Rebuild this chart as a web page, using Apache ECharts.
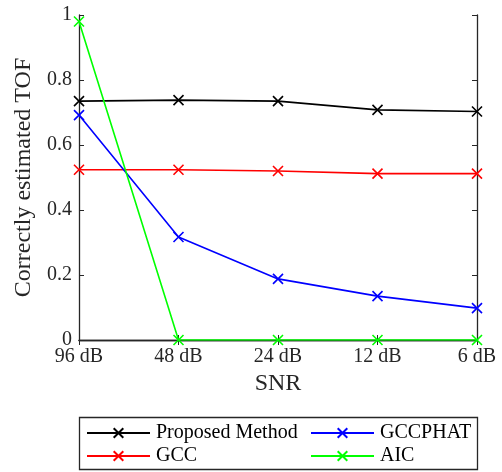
<!DOCTYPE html>
<html><head><meta charset="utf-8">
<script src="https://cdn.jsdelivr.net/npm/echarts@6/dist/echarts.min.js"></script>
<style>html,body{margin:0;padding:0;background:#fff}#c{width:502px;height:472px}</style>
</head><body><div id="c"></div>
<script>
var categories = ['96 dB', '48 dB', '24 dB', '12 dB', '6 dB'];
var proposed = [0.735, 0.738, 0.735, 0.708, 0.703];
var gcc = [0.524, 0.524, 0.520, 0.512, 0.512];
var gccphat = [0.692, 0.317, 0.188, 0.135, 0.098];
var aic = [0.98, 0, 0, 0, 0];
var yTicks = [0, 0.2, 0.4, 0.6, 0.8, 1];

var FONT = 'Liberation Serif';
var FS = 20;
var NFS = 24;
var crossPath = 'path://M0,0L10,10M10,0L0,10';
function mk(name, data, color) {
  return {
    name: name, type: 'line', data: data, color: color,
    symbol: crossPath, symbolSize: 10, showAllSymbol: true,
    lineStyle: {color: color, width: 1.6},
    itemStyle: {color: color, borderColor: color, borderWidth: 1.6},
    emphasis: {disabled: true}, animation: false, z: 3
  };
}
var chart = echarts.init(document.getElementById('c'));
var axisLine = {show: true, lineStyle: {color: '#262626', width: 1.3}};
var tick = {show: true, inside: true, length: 5, lineStyle: {color: '#262626'}};
chart.setOption({
  animation: false,
  textStyle: {fontFamily: FONT},
  grid: {left: 79, right: 25, top: 15, bottom: 132, show: false},
  xAxis: [{
    type: 'category', data: categories, boundaryGap: false, position: 'bottom',
    axisLine: axisLine, axisTick: tick,
    axisLabel: {fontFamily: FONT, fontSize: FS, color: '#262626', margin: 7},
    name: 'SNR', nameLocation: 'middle', nameGap: 30,
    nameTextStyle: {fontFamily: FONT, fontSize: NFS, color: '#262626'},
    splitLine: {show: false}
  }, {
    type: 'category', data: categories, boundaryGap: false, position: 'top',
    axisLine: axisLine, axisTick: tick,
    axisLabel: {show: false}, splitLine: {show: false}
  }],
  yAxis: [{
    type: 'value', min: 0, max: 1, interval: 0.2, position: 'left',
    axisLine: axisLine, axisTick: tick,
    axisLabel: {fontFamily: FONT, fontSize: FS, color: '#262626', margin: 7,
      formatter: function (v) { var r = Math.round(v*10)/10; return yTicks.indexOf(r) >= 0 ? String(r) : ''; }},
    name: 'Correctly estimated TOF', nameLocation: 'middle', nameGap: 41,
    nameTextStyle: {fontFamily: FONT, fontSize: NFS, color: '#262626'},
    splitLine: {show: false}
  }, {
    type: 'value', min: 0, max: 1, interval: 0.2, position: 'right',
    axisLine: axisLine, axisTick: tick,
    axisLabel: {show: false}, splitLine: {show: false}
  }],
  legend: [{
    orient: 'vertical', left: 86, top: 423, padding: 0, height: 60,
    itemWidth: 63, itemHeight: 12, itemGap: 3,
    data: ['Proposed Method', 'GCC'],
    textStyle: {fontFamily: FONT, fontSize: FS, color: '#000', padding: [0,0,0,1]}
  }, {
    orient: 'vertical', left: 310, top: 423, padding: 0, height: 60,
    itemWidth: 63, itemHeight: 12, itemGap: 3,
    data: ['GCCPHAT', 'AIC'],
    textStyle: {fontFamily: FONT, fontSize: FS, color: '#000', padding: [0,0,0,1]}
  }],
  graphic: [{
    type: 'rect', shape: {x: 79.5, y: 417.5, width: 398, height: 52},
    style: {fill: 'none', stroke: '#262626', lineWidth: 1.3}, silent: true
  }],
  series: [
    mk('Proposed Method', proposed, '#000000'),
    mk('GCC', gcc, '#ff0000'),
    mk('GCCPHAT', gccphat, '#0000ff'),
    mk('AIC', aic, '#00ff00')
  ]
});
</script></body></html>
